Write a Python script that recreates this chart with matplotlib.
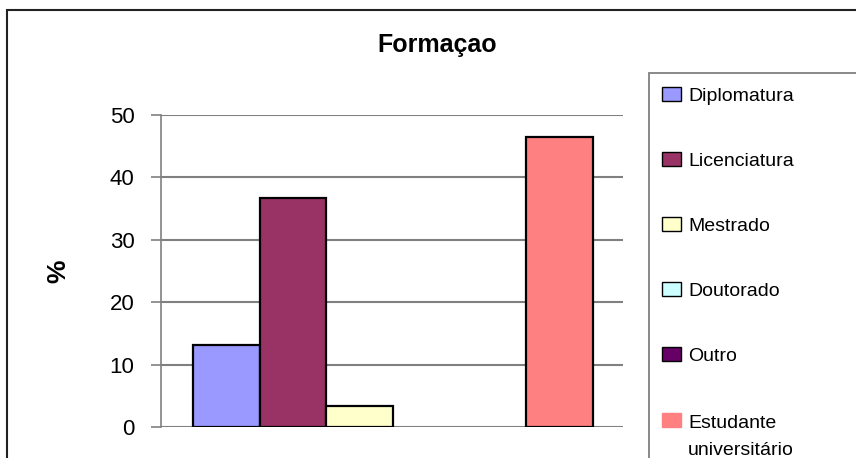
import matplotlib
matplotlib.use("Agg")
import matplotlib.pyplot as plt
from matplotlib.patches import Rectangle
import numpy as np

plt.rcParams['font.family'] = ['Liberation Sans', 'DejaVu Sans']

title = "Formaçao"
ylabel = "%"
series = ["Diplomatura", "Licenciatura", "Mestrado", "Doutorado", "Outro", "Estudante\nuniversitário"]
values = [13.1, 36.7, 3.4, 0.0, 0.0, 46.5]
colors = ["#9999FF", "#993366", "#FFFFCC", "#CCFFFF", "#660066", "#FF8080"]
yticks = [0, 10, 20, 30, 40, 50]

W, H = 856, 458
fig = plt.figure(figsize=(W / 100, H / 100), dpi=100)

def fx(px):
    return px / W

def fy(py):
    return 1 - py / H

# outer chart border
fig.patches.append(Rectangle((fx(7), fy(470)), fx(900) - fx(7), fy(10) - fy(470),
                             transform=fig.transFigure, fill=False,
                             edgecolor="#222222", linewidth=1.5, zorder=0))

ax = fig.add_axes([fx(161), fy(427), fx(623) - fx(161), fy(115) - fy(427)])
ax.set_xlim(-0.5, 0.5)
ax.set_ylim(0, 50)

n = len(values)
group = 0.866
w = group / n
x0 = -group / 2 + 0.002
for i, (v, c) in enumerate(zip(values, colors)):
    if v > 0:
        ax.bar(x0 + w * (i + 0.5), v, width=w, color=c, edgecolor="black",
               linewidth=1.6, zorder=3)

ax.set_yticks(yticks)
ax.set_yticklabels([str(t) for t in yticks], fontsize=16)
ax.tick_params(axis='y', length=7, width=1.2, color="#808080", pad=12)
ax.set_xticks([])
ax.yaxis.grid(True, color="#808080", linewidth=1.5, zorder=0)
ax.set_axisbelow(True)
for side in ["top", "right", "bottom"]:
    ax.spines[side].set_visible(False)
ax.spines["left"].set_color("#808080")
ax.spines["left"].set_linewidth(1.2)

fig.text(fx(58), fy(271), ylabel, rotation=90, fontsize=19, fontweight='bold',
         ha='center', va='center')
fig.text(fx(437), fy(52), title, fontsize=18, fontweight='bold',
         ha='center', va='baseline')

# legend box
fig.patches.append(Rectangle((fx(649), fy(470)), fx(900) - fx(649), fy(73) - fy(470),
                             transform=fig.transFigure, fill=False,
                             edgecolor="#808080", linewidth=1.3, zorder=1))
centers = [94, 159, 224, 289, 354, 420]
for s, c, cy in zip(series, colors, centers):
    fig.patches.append(Rectangle((fx(662), fy(cy + 7)), fx(681) - fx(662), fy(cy - 7) - fy(cy + 7),
                                 transform=fig.transFigure, facecolor=c,
                                 edgecolor="black" if "\n" not in s else c,
                                 linewidth=1.0, zorder=2))
    extra = 28 * s.count("\n")
    fig.text(fx(688), fy(cy + 7 + extra), s, fontsize=14, ha='left', va='baseline',
             linespacing=1.75)

fig.savefig("out.png", dpi=100)
